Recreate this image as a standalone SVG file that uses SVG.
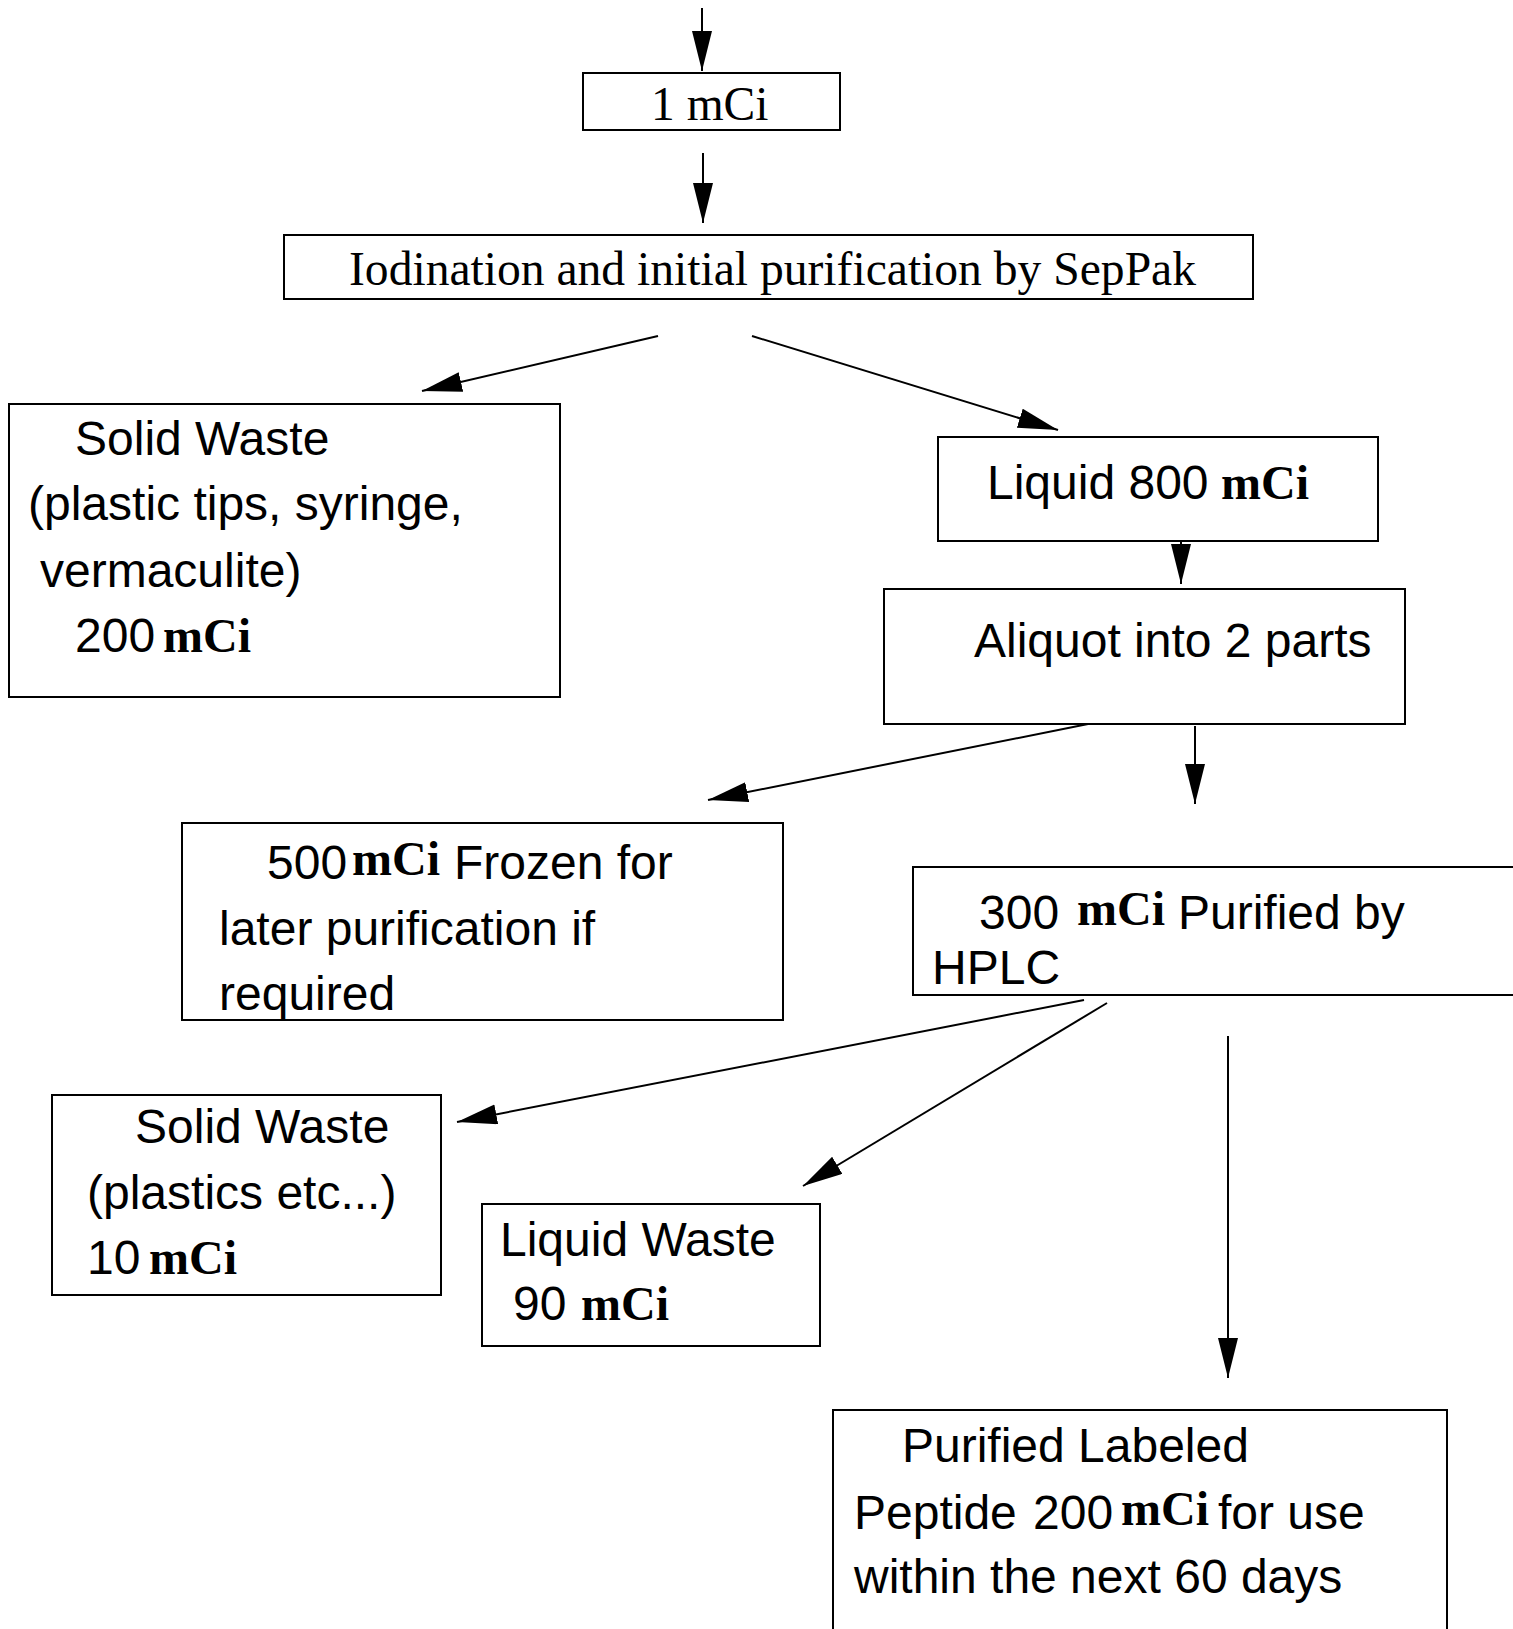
<svg xmlns="http://www.w3.org/2000/svg" width="1513" height="1629" viewBox="0 0 1513 1629">
<style>
.box{fill:#fff;stroke:#000;stroke-width:2}
.ln{stroke:#000;stroke-width:2;fill:none;marker-end:url(#ah)}
.s{font-family:"Liberation Sans",Arial,sans-serif;font-size:48px;fill:#000}
.sf{font-family:"Liberation Serif","Times New Roman",serif;font-size:47.5px;fill:#000}
.b{font-family:"Liberation Serif","Times New Roman",serif;font-weight:bold;font-size:48px}
</style>
<defs>
<marker id="ah" markerUnits="userSpaceOnUse" markerWidth="42" markerHeight="22" refX="40" refY="10" orient="auto" viewBox="0 0 42 22">
<path d="M0,0 L40,10 L0,20 z" fill="#000"/>
</marker>
</defs>
<rect width="1513" height="1629" fill="#fff"/>
<g id="connectors">
<line class="ln" x1="702" y1="8" x2="702" y2="71"/>
<line class="ln" x1="703" y1="153" x2="703" y2="223"/>
<line class="ln" x1="658" y1="336" x2="422" y2="391"/>
<line class="ln" x1="752" y1="336" x2="1058" y2="430"/>
<line class="ln" x1="1181" y1="542" x2="1181" y2="584"/>
<line class="ln" x1="1093" y1="723" x2="708" y2="800"/>
<line class="ln" x1="1195" y1="726" x2="1195" y2="804"/>
<line class="ln" x1="1084" y1="1000" x2="457" y2="1122"/>
<line class="ln" x1="1107" y1="1003" x2="803" y2="1186"/>
<line class="ln" x1="1228" y1="1036" x2="1228" y2="1378"/>
</g>
<g id="n1">
<rect class="box" x="583" y="73" width="257" height="57"/>
<text class="sf" x="651" y="120">1 mCi</text>
</g>
<g id="n2">
<rect class="box" x="284" y="235" width="969" height="64"/>
<text class="sf" x="349" y="285" textLength="847" lengthAdjust="spacingAndGlyphs">Iodination and initial purification by SepPak</text>
</g>
<g id="n3">
<rect class="box" x="9" y="404" width="551" height="293"/>
<text class="s" x="75" y="455">Solid Waste</text>
<text class="s" x="28" y="520">(plastic tips, syringe,</text>
<text class="s" x="40" y="587">vermaculite)</text>
<text class="s" x="75" y="652">200<tspan class="b" x="163">mCi</tspan></text>
</g>
<g id="n4">
<rect class="box" x="938" y="437" width="440" height="104"/>
<text class="s" x="987" y="499">Liquid 800 <tspan class="b" x="1221">mCi</tspan></text>
</g>
<g id="n5">
<rect class="box" x="884" y="589" width="521" height="135"/>
<text class="s" x="974" y="657">Aliquot into 2 parts</text>
</g>
<g id="n6">
<rect class="box" x="182" y="823" width="601" height="197"/>
<text class="s" x="267" y="879">500<tspan class="b" x="352" dy="-4">mCi</tspan><tspan x="454" dy="4">Frozen for</tspan></text>
<text class="s" x="219" y="945">later purification if</text>
<text class="s" x="219" y="1010">required</text>
</g>
<g id="n7">
<rect class="box" x="913" y="867" width="610" height="128"/>
<text class="s" x="979" y="929">300 <tspan class="b" x="1077" dy="-4">mCi</tspan><tspan x="1178" dy="4">Purified by</tspan></text>
<text class="s" x="932" y="984">HPLC</text>
</g>
<g id="n8">
<rect class="box" x="52" y="1095" width="389" height="200"/>
<text class="s" x="135" y="1143">Solid Waste</text>
<text class="s" x="87" y="1209">(plastics etc...)</text>
<text class="s" x="87" y="1274">10<tspan class="b" x="149">mCi</tspan></text>
</g>
<g id="n9">
<rect class="box" x="482" y="1204" width="338" height="142"/>
<text class="s" x="500" y="1256">Liquid Waste</text>
<text class="s" x="513" y="1320">90 <tspan class="b" x="581">mCi</tspan></text>
</g>
<g id="n10">
<rect class="box" x="833" y="1410" width="614" height="230"/>
<text class="s" x="902" y="1462">Purified Labeled</text>
<text class="s" x="854" y="1529">Peptide<tspan x="1033">200</tspan><tspan class="b" x="1121" dy="-4">mCi</tspan><tspan x="1218" dy="4">for use</tspan></text>
<text class="s" x="854" y="1593">within the next 60 days</text>
</g>
</svg>
